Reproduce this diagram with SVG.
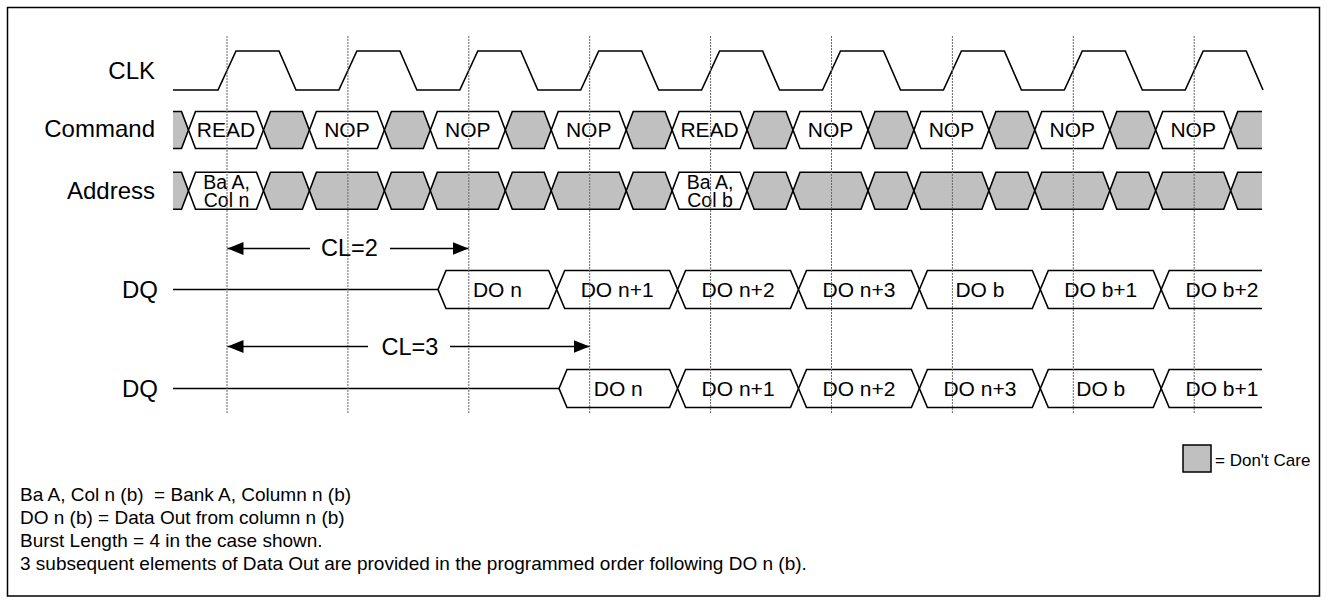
<svg xmlns="http://www.w3.org/2000/svg" xmlns:xlink="http://www.w3.org/1999/xlink" width="1327" height="604" viewBox="0 0 1327 604">
<style>
text{font-family:"Liberation Sans",Arial,Helvetica,sans-serif;fill:#000}
.lbl{font-size:24px;text-anchor:end}
.cl{font-size:23.5px;text-anchor:middle}
.ct{font-size:21px;text-anchor:middle}
.at{font-size:19.5px;text-anchor:middle}
.ft{font-size:19px}
.lg{font-size:17px}
.w{fill:#fff;stroke:#000;stroke-width:1.6}
.g{fill:#c0c0c0;stroke:#000;stroke-width:1.6}
.gf{fill:#c0c0c0;stroke:none}
.wf{fill:#fff;stroke:none}
.ln{fill:none;stroke:#000;stroke-width:1.6}
.dash{stroke:#666;stroke-width:1;stroke-dasharray:2 1}
.arr{fill:none;stroke:#000;stroke-width:1.5}
</style>
<defs>
<path id="wc" d="M0,18.5 L7,0 H68 L75,18.5 L68,37 H7 Z"/>
<path id="gc" d="M0,18.5 L7,0 H38.9 L45.9,18.5 L38.9,37 H7 Z"/>
<path id="dc" d="M0,19 L8,0 H112.9 L120.9,19 L112.9,38 H8 Z"/>
<marker id="ah" markerUnits="userSpaceOnUse" markerWidth="17" markerHeight="14" refX="16" refY="6.5" orient="auto">
<path d="M0,0 L16,6.5 L0,13 Z" fill="#000"/>
</marker>
</defs>
<rect id="frame" x="7.5" y="7.5" width="1312" height="588.5" fill="#fff" stroke="#000" stroke-width="1.5"/>
<g id="labels">
<text class="lbl" x="155" y="78.5">CLK</text>
<text class="lbl" x="155" y="137">Command</text>
<text class="lbl" x="155" y="198.5">Address</text>
<text class="lbl" x="158" y="298">DQ</text>
<text class="lbl" x="158" y="397">DQ</text>
</g>
<g id="clk">
<path class="ln" d="M173,90 L218,90 L236,51 L279,51 L296,90 L338.9,90 L356.9,51 L399.9,51 L416.9,90 L459.8,90 L477.8,51 L520.8,51 L537.8,90 L580.7,90 L598.7,51 L641.7,51 L658.7,90 L701.6,90 L719.6,51 L762.6,51 L779.6,90 L822.5,90 L840.5,51 L883.5,51 L900.5,90 L943.4,90 L961.4,51 L1004.4,51 L1021.4,90 L1064.3,90 L1082.3,51 L1125.3,51 L1142.3,90 L1185.2,90 L1203.2,51 L1246.2,51 L1263,90"/>
</g>
<g id="command" transform="translate(0,111.5)">
<polygon class="gf" points="173,0 181.5,0 188.5,18.5 181.5,37 173,37"/>
<path class="ln" d="M173,0 H181.5 L188.5,18.5 L181.5,37 H173"/>
<use xlink:href="#wc" x="188.5" class="w"/>
<use xlink:href="#gc" x="263.5" class="g"/>
<use xlink:href="#wc" x="309.4" class="w"/>
<use xlink:href="#gc" x="384.4" class="g"/>
<use xlink:href="#wc" x="430.3" class="w"/>
<use xlink:href="#gc" x="505.3" class="g"/>
<use xlink:href="#wc" x="551.2" class="w"/>
<use xlink:href="#gc" x="626.2" class="g"/>
<use xlink:href="#wc" x="672.1" class="w"/>
<use xlink:href="#gc" x="747.1" class="g"/>
<use xlink:href="#wc" x="793" class="w"/>
<use xlink:href="#gc" x="868" class="g"/>
<use xlink:href="#wc" x="913.9" class="w"/>
<use xlink:href="#gc" x="988.9" class="g"/>
<use xlink:href="#wc" x="1034.8" class="w"/>
<use xlink:href="#gc" x="1109.8" class="g"/>
<use xlink:href="#wc" x="1155.7" class="w"/>
<polygon class="gf" points="1262,0 1237.7,0 1230.7,18.5 1237.7,37 1262,37"/>
<path class="ln" d="M1262,0 H1237.7 L1230.7,18.5 L1237.7,37 H1262"/>
<text class="ct" x="226" y="25.5">READ</text>
<text class="ct" x="346.9" y="25.5">NOP</text>
<text class="ct" x="467.8" y="25.5">NOP</text>
<text class="ct" x="588.7" y="25.5">NOP</text>
<text class="ct" x="709.6" y="25.5">READ</text>
<text class="ct" x="830.5" y="25.5">NOP</text>
<text class="ct" x="951.4" y="25.5">NOP</text>
<text class="ct" x="1072.3" y="25.5">NOP</text>
<text class="ct" x="1193.2" y="25.5">NOP</text>
</g>
<g id="address" transform="translate(0,172.25)">
<polygon class="gf" points="173,0 181.5,0 188.5,18.5 181.5,37 173,37"/>
<path class="ln" d="M173,0 H181.5 L188.5,18.5 L181.5,37 H173"/>
<use xlink:href="#wc" x="188.5" class="w"/>
<use xlink:href="#gc" x="263.5" class="g"/>
<use xlink:href="#wc" x="309.4" class="g"/>
<use xlink:href="#gc" x="384.4" class="g"/>
<use xlink:href="#wc" x="430.3" class="g"/>
<use xlink:href="#gc" x="505.3" class="g"/>
<use xlink:href="#wc" x="551.2" class="g"/>
<use xlink:href="#gc" x="626.2" class="g"/>
<use xlink:href="#wc" x="672.1" class="w"/>
<use xlink:href="#gc" x="747.1" class="g"/>
<use xlink:href="#wc" x="793" class="g"/>
<use xlink:href="#gc" x="868" class="g"/>
<use xlink:href="#wc" x="913.9" class="g"/>
<use xlink:href="#gc" x="988.9" class="g"/>
<use xlink:href="#wc" x="1034.8" class="g"/>
<use xlink:href="#gc" x="1109.8" class="g"/>
<use xlink:href="#wc" x="1155.7" class="g"/>
<polygon class="gf" points="1262,0 1237.7,0 1230.7,18.5 1237.7,37 1262,37"/>
<path class="ln" d="M1262,0 H1237.7 L1230.7,18.5 L1237.7,37 H1262"/>
<text class="at" x="226.5" y="17">Ba A,</text>
<text class="at" x="226.5" y="34.5">Col n</text>
<text class="at" x="710" y="17">Ba A,</text>
<text class="at" x="710" y="34.5">Col b</text>
</g>
<g id="dq1" transform="translate(0,270.5)">
<path class="ln" d="M173,19 H438"/>
<polygon class="w" points="438,19 446,0 548.7,0 556.7,19 548.7,38 446,38"/>
<use xlink:href="#dc" x="556.7" class="w"/>
<use xlink:href="#dc" x="677.6" class="w"/>
<use xlink:href="#dc" x="798.5" class="w"/>
<use xlink:href="#dc" x="919.4" class="w"/>
<use xlink:href="#dc" x="1040.3" class="w"/>
<polygon class="wf" points="1262,0 1169.2,0 1161.2,19 1169.2,38 1262,38"/>
<path class="ln" d="M1262,0 H1169.2 L1161.2,19 L1169.2,38 H1262"/>
<text class="ct" x="497.4" y="26.5">DO n</text>
<text class="ct" x="617.2" y="26.5">DO n+1</text>
<text class="ct" x="738.1" y="26.5">DO n+2</text>
<text class="ct" x="859" y="26.5">DO n+3</text>
<text class="ct" x="979.9" y="26.5">DO b</text>
<text class="ct" x="1100.8" y="26.5">DO b+1</text>
<text class="ct" x="1222" y="26.5">DO b+2</text>
</g>
<g id="dq2" transform="translate(0,369.5)">
<path class="ln" d="M173,19 H559"/>
<polygon class="w" points="559,19 567,0 669.6,0 677.6,19 669.6,38 567,38"/>
<use xlink:href="#dc" x="677.6" class="w"/>
<use xlink:href="#dc" x="798.5" class="w"/>
<use xlink:href="#dc" x="919.4" class="w"/>
<use xlink:href="#dc" x="1040.3" class="w"/>
<polygon class="wf" points="1262,0 1169.2,0 1161.2,19 1169.2,38 1262,38"/>
<path class="ln" d="M1262,0 H1169.2 L1161.2,19 L1169.2,38 H1262"/>
<text class="ct" x="618.3" y="26.5">DO n</text>
<text class="ct" x="738.1" y="26.5">DO n+1</text>
<text class="ct" x="859" y="26.5">DO n+2</text>
<text class="ct" x="979.9" y="26.5">DO n+3</text>
<text class="ct" x="1100.8" y="26.5">DO b</text>
<text class="ct" x="1222" y="26.5">DO b+1</text>
</g>
<g id="gridlines">
<line class="dash" x1="227" y1="36" x2="227" y2="414"/>
<line class="dash" x1="347.9" y1="36" x2="347.9" y2="414"/>
<line class="dash" x1="468.8" y1="36" x2="468.8" y2="414"/>
<line class="dash" x1="589.7" y1="36" x2="589.7" y2="414"/>
<line class="dash" x1="710.6" y1="36" x2="710.6" y2="414"/>
<line class="dash" x1="831.5" y1="36" x2="831.5" y2="414"/>
<line class="dash" x1="952.4" y1="36" x2="952.4" y2="414"/>
<line class="dash" x1="1073.3" y1="36" x2="1073.3" y2="414"/>
<line class="dash" x1="1194.2" y1="36" x2="1194.2" y2="414"/>
</g>
<g id="connectors">
<path class="arr" d="M310,248.5 H227.5" marker-end="url(#ah)"/>
<path class="arr" d="M390,248.5 H468.5" marker-end="url(#ah)"/>
<path class="arr" d="M368,346.5 H227.5" marker-end="url(#ah)"/>
<path class="arr" d="M450,346.5 H589.5" marker-end="url(#ah)"/>
<text class="cl" x="349.5" y="256">CL=2</text>
<text class="cl" x="410" y="354.5">CL=3</text>
</g>
<g id="legend">
<rect x="1183" y="445" width="28" height="27" fill="#c0c0c0" stroke="#000" stroke-width="1.5"/>
<text class="lg" x="1215" y="465.5">= Don't Care</text>
</g>
<g id="notes">
<text class="ft" x="20" y="501" xml:space="preserve">Ba A, Col n (b)  = Bank A, Column n (b)</text>
<text class="ft" x="20" y="524">DO n (b) = Data Out from column n (b)</text>
<text class="ft" x="20" y="547">Burst Length = 4 in the case shown.</text>
<text class="ft" x="20" y="570">3 subsequent elements of Data Out are provided in the programmed order following DO n (b).</text>
</g>
</svg>
